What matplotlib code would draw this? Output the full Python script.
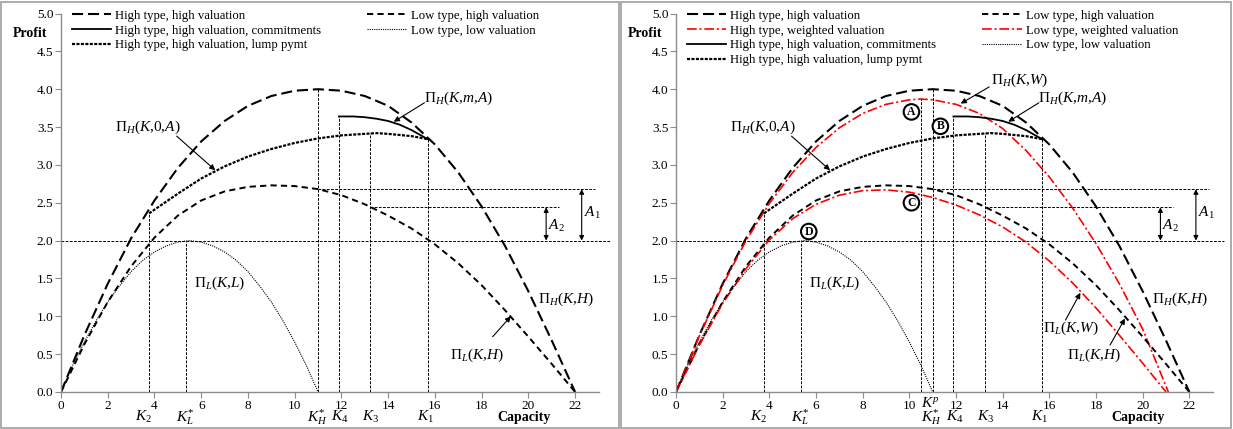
import matplotlib
matplotlib.use('Agg')
import matplotlib.pyplot as plt
from matplotlib.lines import Line2D
from matplotlib.patches import Rectangle

plt.rcParams['font.family'] = ['Liberation Serif', 'DejaVu Serif']
plt.rcParams['mathtext.fontset'] = 'custom'
plt.rcParams['mathtext.rm'] = 'Liberation Serif'
plt.rcParams['mathtext.it'] = 'Liberation Serif:italic'
plt.rcParams['mathtext.bf'] = 'Liberation Serif:bold'
plt.rcParams['lines.scale_dashes'] = False

# ---- data ----
k = list(range(23))
# high type, high valuation  Pi_H(K,H)
hh = [0, 0.75, 1.43, 2.03, 2.53, 2.96, 3.31, 3.58, 3.78, 3.91, 3.98, 4.00,
      3.98, 3.91, 3.78, 3.56, 3.27, 2.90, 2.45, 1.93, 1.33, 0.68, 0]
# low type, high valuation  Pi_L(K,H)
lh = [0, 0.63, 1.19, 1.66, 2.04, 2.33, 2.53, 2.65, 2.71, 2.73, 2.72, 2.68,
      2.60, 2.48, 2.33, 2.16, 1.95, 1.70, 1.41, 1.08, 0.73, 0.37, 0]
# low type, low valuation  Pi_L(K,L)
k_ll = [0, 0.5, 1, 1.5, 2, 2.5, 3, 3.5, 4, 4.5, 5, 5.5, 6, 6.5, 7, 7.5, 8, 8.5, 9, 9.5, 10, 10.5, 11]
ll = [0, 0.35, 0.66, 0.94, 1.19, 1.40, 1.59, 1.74, 1.85, 1.93, 1.98, 2.00,
      1.98, 1.93, 1.85, 1.74, 1.59, 1.40, 1.19, 0.94, 0.66, 0.35, 0]
# high type, high valuation, lump payment  Pi_H(K,0,A)
k_lump = [3.77, 5, 6, 7, 8, 9, 10, 11, 12, 13, 13.5, 14, 15, 15.69]
lump = [2.36, 2.62, 2.82, 2.98, 3.11, 3.21, 3.29, 3.35, 3.39, 3.41, 3.42, 3.41, 3.38, 3.34]
# high type, high valuation, commitments  Pi_H(K,m,A)
k_com = [11.89, 12.5, 13, 13.5, 14, 14.5, 15, 15.69]
com = [3.64, 3.64, 3.63, 3.61, 3.58, 3.53, 3.46, 3.34]
# weighted valuation (right panel only)
k_hw = [0, 1, 2, 3, 4, 5, 6, 7, 8, 9, 10, 10.5, 11, 12, 13, 14, 15, 16, 17, 18, 19, 20, 21.1]
hw = [0, 0.74, 1.41, 2.00, 2.49, 2.90, 3.23, 3.49, 3.68, 3.80, 3.86, 3.87, 3.86,
      3.80, 3.68, 3.48, 3.19, 2.84, 2.43, 1.96, 1.43, 0.83, 0]
k_lw = list(range(22))
lw_ = [0, 0.62, 1.17, 1.63, 2.01, 2.29, 2.48, 2.60, 2.66, 2.67, 2.64, 2.57,
       2.47, 2.34, 2.18, 1.98, 1.73, 1.44, 1.11, 0.75, 0.38, 0]

# capacity markers
K2, KL, KH, K4, K3, K1, KP = 3.77, 5.36, 11.0, 11.89, 13.24, 15.69, 10.51
k_marks = [(r'$K_2$', 3.55), (r'$K^{*}_{L}$', 5.3), (r'$K^{*}_{H}$', 10.95),
           (r'$K_4$', 11.95), (r'$K_3$', 13.25), (r'$K_1$', 15.6)]

style = {
    'hh': dict(color='black', lw=1.5, dashes=(8, 3.5)),
    'lh': dict(color='black', lw=1.4, dashes=(4.5, 3)),
    'll': dict(color='black', lw=0.8, dashes=(0.8, 0.8)),
    'lump': dict(color='black', lw=1.6, dashes=(2.2, 1.0)),
    'com': dict(color='black', lw=1.3),
    'hw': dict(color='red', lw=1.2, dashes=(7, 2, 1.5, 2)),
    'lw': dict(color='red', lw=1.2, dashes=(7, 2, 1.5, 2)),
}
ref = dict(color='black', lw=0.7, dashes=(2, 1))
gray = '#8c8c8c'


def arrow(ax, tip, tail):
    ax.annotate('', xy=tip, xytext=tail,
                arrowprops=dict(arrowstyle='-|>', color='black', lw=0.8, mutation_scale=8,
                                shrinkA=0, shrinkB=0))


def draw(ax, weighted):
    ax.plot(k, hh, **style['hh'])
    if weighted:
        ax.plot(k_hw, hw, **style['hw'])
    ax.plot(k_com, com, **style['com'])
    ax.plot(k_lump, lump, **style['lump'])
    ax.plot(k, lh, **style['lh'])
    if weighted:
        ax.plot(k_lw, lw_, **style['lw'])
    ax.plot(k_ll, ll, **style['ll'])

    # reference lines
    ax.plot([0, 23.5], [2.0, 2.0], clip_on=False, **ref)
    ax.plot([KH, 22.85], [2.68, 2.68], **ref)
    ax.plot([K3, 21.29], [2.44, 2.44], **ref)
    for x, top in [(K2, 2.36), (KL, 2.0), (KH, 4.0), (K4, 3.64), (K3, 3.42), (K1, 3.34)]:
        ax.plot([x, x], [0, top], **ref)
    if weighted:
        ax.plot([KP, KP], [0, 3.87], **ref)

    # A1 / A2
    for x, top, lab, tx, ty in [(22.28, 2.68, r'$A_1$', 22.75, 2.36), (20.76, 2.44, r'$A_2$', 21.2, 2.2)]:
        ax.annotate('', xy=(x, top), xytext=(x, 2.0),
                    arrowprops=dict(arrowstyle='<|-|>', color='black', lw=0.8, mutation_scale=7,
                                    shrinkA=0, shrinkB=0))
        ax.text(tx, ty, lab, fontsize=11, ha='center', va='center')

    fs = 11
    ax.text(3.7, 3.5, r'$\Pi_H(K{,}\mathit{0}{,}A)$', fontsize=fs, ha='center', va='center')
    arrow(ax, (6.6, 2.93), (4.95, 3.38))
    ax.text(17.0, 3.88, r'$\Pi_H(K{,}m{,}A)$', fontsize=fs, ha='center', va='center')
    arrow(ax, (14.24, 3.57), (15.55, 3.82))
    ax.text(21.6, 1.22, r'$\Pi_H(K{,}H)$', fontsize=fs, ha='center', va='center')
    ax.text(6.8, 1.44, r'$\Pi_L(K{,}L)$', fontsize=fs, ha='center', va='center')
    if weighted:
        ax.text(17.9, 0.49, r'$\Pi_L(K{,}H)$', fontsize=fs, ha='center', va='center')
        arrow(ax, (19.24, 0.97), (18.6, 0.62))
        ax.text(16.9, 0.84, r'$\Pi_L(K{,}W)$', fontsize=fs, ha='center', va='center')
        arrow(ax, (17.33, 1.31), (16.69, 0.95))
        ax.text(14.75, 4.12, r'$\Pi_H(K{,}W)$', fontsize=fs, ha='center', va='center')
        arrow(ax, (12.2, 3.81), (13.42, 4.03))
        for lab, x, y in [('A', 10.09, 3.70), ('B', 11.33, 3.51), ('C', 10.09, 2.50), ('D', 5.69, 2.12)]:
            ax.text(x, y, lab, fontsize=8.5, fontweight='bold', ha='center', va='center',
                    bbox=dict(boxstyle='circle,pad=0.15', fc='white', ec='black', lw=1.5))
    else:
        ax.text(17.8, 0.49, r'$\Pi_L(K{,}H)$', fontsize=fs, ha='center', va='center')
        arrow(ax, (19.25, 1.0), (18.47, 0.73))

    # axes cosmetics
    ax.set_xlim(0, 23)
    ax.set_ylim(0, 5)
    ax.set_xticks(range(0, 23, 2))
    ax.set_yticks([i * 0.5 for i in range(11)])
    ax.set_yticklabels(['%.1f' % (i * 0.5) for i in range(11)])
    for s in ['top', 'right']:
        ax.spines[s].set_visible(False)
    for s in ['left', 'bottom']:
        ax.spines[s].set_color(gray)
        ax.spines[s].set_linewidth(1.0)
    ax.tick_params(direction='out', length=4, width=0.8, color=gray, labelsize=9.5, pad=1.5)
    ax.patch.set_alpha(0)

    tr = ax.get_xaxis_transform()
    for lab, lx in k_marks:
        ax.text(lx, -0.066, lab, transform=tr, fontsize=11, ha='center', va='center')
    if weighted:
        ax.text(10.88, -0.03, r'$K^p$', transform=tr, fontsize=11, ha='center', va='center')
    ax.text(19.8, -0.068, 'Capacity', transform=tr, fontsize=10, fontweight='bold',
            ha='center', va='center')
    ax.text(-0.058, 4.74, 'Profit', transform=ax.get_yaxis_transform(), fontsize=10,
            fontweight='bold', ha='center', va='center')

    # legend
    def h(key):
        return Line2D([], [], **style[key])
    if weighted:
        handles = [h('hh'), h('hw'), h('com'), h('lump'), h('lh'), h('lw'), h('ll')]
        labels = ['High type, high valuation', 'High type, weighted valuation',
                  'High type, high valuation, commitments', 'High type, high valuation, lump pymt',
                  'Low type, high valuation', 'Low type, weighted valuation', 'Low type, low valuation']
    else:
        handles = [h('hh'), h('com'), h('lump'), h('lh'), h('ll')]
        labels = ['High type, high valuation', 'High type, high valuation, commitments',
                  'High type, high valuation, lump pymt',
                  'Low type, high valuation', 'Low type, low valuation']
    ax.legend(handles, labels, ncol=2, loc='upper left', bbox_to_anchor=(0.02, 1.01),
              frameon=False, fontsize=9.2, handlelength=3.1, handletextpad=0.3,
              labelspacing=0.22, columnspacing=3.6, borderpad=0, borderaxespad=0)


fig = plt.figure(figsize=(12.33, 4.29), dpi=100)
ax1 = fig.add_axes([61 / 1233, 37 / 429, 537.5 / 1233, 378.5 / 429])
ax2 = fig.add_axes([676 / 1233, 37 / 429, 536.7 / 1233, 378.5 / 429])
draw(ax1, False)
draw(ax2, True)

# panel frames
fig.add_artist(Rectangle((1 / 1233, 1 / 429), 618 / 1233, 426 / 429, transform=fig.transFigure,
                         fill=False, ec='#a6a6a6', lw=1.3))
fig.add_artist(Rectangle((621 / 1233, 1 / 429), 610 / 1233, 426 / 429, transform=fig.transFigure,
                         fill=False, ec='#a6a6a6', lw=1.3))

fig.savefig('out.png', dpi=100)
